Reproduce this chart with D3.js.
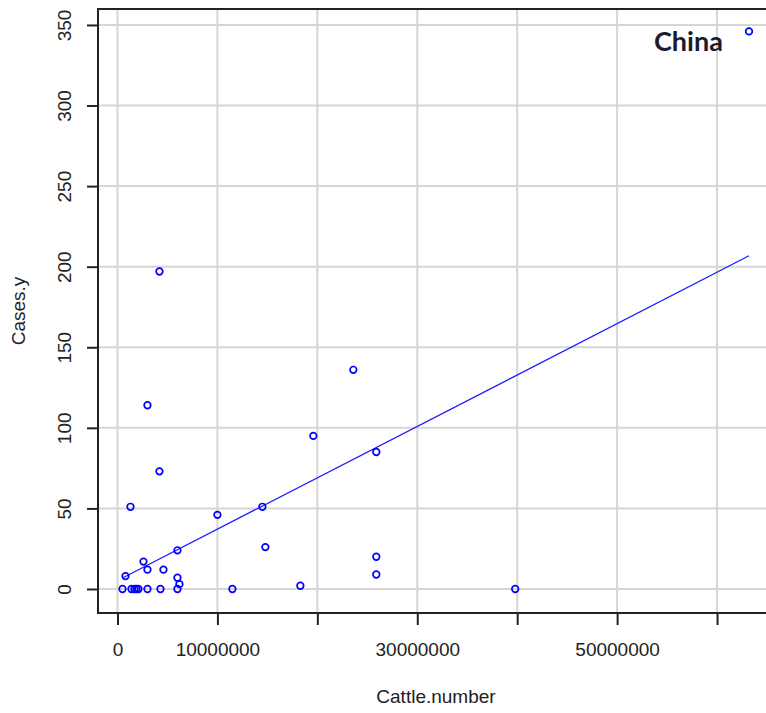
<!DOCTYPE html>
<html>
<head>
<meta charset="utf-8">
<script src="https://cdn.jsdelivr.net/npm/d3@7"></script>
<style>
  body { margin: 0; background: #fff; }
  text { font-family: "Liberation Sans", Arial, sans-serif; fill: #222; }
</style>
</head>
<body>
<div id="chart"></div>
<script>
// cattle numbers (head) and cases
const cattle = [63200000, 4200000, 3000000, 23600000, 19600000, 25900000, 4200000,
  1300000, 10000000, 14500000, 14800000, 6000000, 2600000, 3000000, 4600000,
  800000, 6000000, 6200000, 6000000, 25900000, 25900000, 18300000, 11500000,
  39800000, 4300000, 3000000, 500000, 1400000, 1700000, 1900000, 2100000];
const cases = [346, 197, 114, 136, 95, 85, 73,
  51, 46, 51, 26, 24, 17, 12, 12,
  8, 7, 3, 0, 20, 9, 2, 0,
  0, 0, 0, 0, 0, 0, 0, 0];

// fitted line Cases.y ~ Cattle.number
const fitIntercept = 5.2;
const fitSlope = 3.19e-6;

const xTicks = [0, 10000000, 20000000, 30000000, 40000000, 50000000, 60000000];
const xTickLabels = ['0', '10000000', '', '30000000', '', '50000000', ''];
const yTicks = [0, 50, 100, 150, 200, 250, 300, 350];

let width = 766,
  height = 713;

const mLeft = 98, mRight = 774, mTop = 9, mBottom = 613;

const svg = d3.select('#chart').append('svg')
  .attr('width', width)
  .attr('height', height);

const x = d3.scaleLinear()
  .domain([-1950000, 65700000])
  .range([mLeft, mRight]);

const y = d3.scaleLinear()
  .domain([-14.9, 359.9])
  .range([mBottom, mTop]);

// grid
svg.append('g')
  .selectAll('line')
  .data(xTicks)
  .enter()
  .append('line')
  .attr('x1', d => x(d)).attr('x2', d => x(d))
  .attr('y1', mTop).attr('y2', mBottom)
  .attr('stroke', '#d6d6d6')
  .attr('stroke-width', 2);

svg.append('g')
  .selectAll('line')
  .data(yTicks)
  .enter()
  .append('line')
  .attr('x1', mLeft).attr('x2', mRight)
  .attr('y1', d => y(d)).attr('y2', d => y(d))
  .attr('stroke', '#d6d6d6')
  .attr('stroke-width', 2);

// axes
const xAxis = svg.append('g')
  .attr('transform', `translate(0,${mBottom})`)
  .call(d3.axisBottom(x)
    .tickValues(xTicks)
    .tickFormat((d, i) => xTickLabels[i])
    .tickSize(12)
    .tickPadding(18)
    .tickSizeOuter(0));

const yAxis = svg.append('g')
  .attr('transform', `translate(${mLeft},0)`)
  .call(d3.axisLeft(y)
    .tickValues(yTicks)
    .tickSize(11)
    .tickSizeOuter(0));

[xAxis, yAxis].forEach(g => {
  g.select('.domain').remove();
  g.selectAll('line').attr('stroke', '#222').attr('stroke-width', 2);
});

xAxis.selectAll('text')
  .attr('font-size', 19)
  .attr('fill', '#222')
  .style('font-family', '"Liberation Sans", Arial, sans-serif');

yAxis.selectAll('text')
  .attr('font-size', 19)
  .attr('fill', '#222')
  .attr('text-anchor', 'middle')
  .attr('x', 0)
  .attr('dy', 0)
  .attr('transform', 'translate(-27,0) rotate(-90)')
  .style('font-family', '"Liberation Sans", Arial, sans-serif');

// frame
svg.append('rect')
  .attr('x', mLeft)
  .attr('y', mTop)
  .attr('width', mRight - mLeft)
  .attr('height', mBottom - mTop)
  .attr('fill', 'none')
  .attr('stroke', '#222')
  .attr('stroke-width', 2);

// axis titles
svg.append('text')
  .attr('x', (mLeft + mRight) / 2)
  .attr('y', 703)
  .attr('text-anchor', 'middle')
  .attr('font-size', 19)
  .text('Cattle.number');

svg.append('text')
  .attr('transform', `translate(25,${(mTop + mBottom) / 2}) rotate(-90)`)
  .attr('text-anchor', 'middle')
  .attr('font-size', 19)
  .text('Cases.y');

// regression line across the data range
const xExtent = d3.extent(cattle);
svg.append('path')
  .datum(xExtent)
  .attr('d', d3.line()
    .x(d => x(d))
    .y(d => y(fitIntercept + fitSlope * d)))
  .attr('fill', 'none')
  .attr('stroke', '#1a1aff')
  .attr('stroke-width', 1.3);

// points
svg.append('g')
  .selectAll('circle')
  .data(cattle.map((c, i) => ({ c, v: cases[i] })))
  .enter()
  .append('circle')
  .attr('cx', d => x(d.c))
  .attr('cy', d => y(d.v))
  .attr('r', 3.3)
  .attr('fill', 'none')
  .attr('stroke', '#0000ff')
  .attr('stroke-width', 1.7);

svg.append('text')
  .attr('x', 654)
  .attr('y', 51)
  .attr('font-size', 27)
  .attr('font-weight', 'bold')
  .style('font-family', 'Lato, "Open Sans", sans-serif')
  .style('fill', '#1b1b2f')
  .text('China');
</script>
</body>
</html>
